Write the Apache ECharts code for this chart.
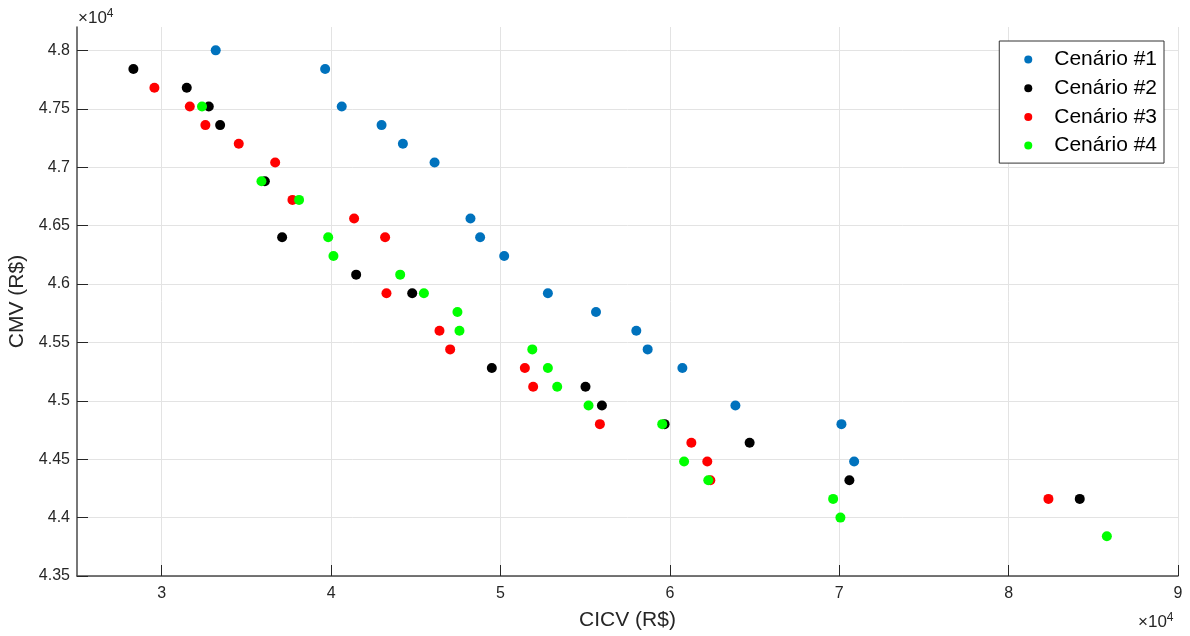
<!DOCTYPE html>
<html>
<head>
<meta charset="utf-8">
<script src="https://cdn.jsdelivr.net/npm/echarts@6/dist/echarts.min.js"></script>
<style>html,body{margin:0;padding:0;background:#fff;}#chart{width:1190px;height:636px;}</style>
</head>
<body>
<div id="chart"></div>
<script>
var seriesNames = ['Cenário #1', 'Cenário #2', 'Cenário #3', 'Cenário #4'];
var xTicks = [30000, 40000, 50000, 60000, 70000, 80000, 90000];
var yTicks = [43500, 44000, 44500, 45000, 45500, 46000, 46500, 47000, 47500, 48000];

var cenario1 = [[33190, 48000], [39650, 47840], [40630, 47520], [42980, 47360], [44240, 47200], [46110, 47040], [48230, 46560], [48800, 46400], [50220, 46240], [52800, 45920], [55640, 45760], [58020, 45600], [58690, 45440], [60740, 45280], [63870, 44960], [70130, 44800], [70880, 44480]];
var cenario2 = [[28330, 47840], [31480, 47680], [32780, 47520], [33450, 47360], [36090, 46880], [37110, 46400], [41480, 46080], [44790, 45920], [49490, 45280], [55020, 45120], [55990, 44960], [59690, 44800], [64710, 44640], [70600, 44320], [84200, 44160]];
var cenario3 = [[29570, 47680], [31660, 47520], [32580, 47360], [34550, 47200], [36700, 47040], [37720, 46720], [41360, 46560], [43190, 46400], [43270, 45920], [46400, 45600], [47030, 45440], [51440, 45280], [51930, 45120], [55870, 44800], [61270, 44640], [62210, 44480], [62390, 44320], [82350, 44160]];
var cenario4 = [[32380, 47520], [35890, 46880], [38110, 46720], [39830, 46400], [40140, 46240], [44080, 46080], [45480, 45920], [47460, 45760], [47580, 45600], [51880, 45440], [52800, 45280], [53350, 45120], [55200, 44960], [59550, 44800], [60840, 44480], [62270, 44320], [69640, 44160], [70070, 44000], [85800, 43840]];

var colors = ['#0072BD', '#000000', '#FF0000', '#00FF00'];
var allData = [cenario1, cenario2, cenario3, cenario4];

var chart = echarts.init(document.getElementById('chart'), null, {renderer: 'canvas'});
var FONT = 'Liberation Sans, Arial, Helvetica, sans-serif';
var axisColor = '#4a4a4a';
var labelColor = '#262626';

function fmt(v) { return String(Math.round(v / 10) / 1000); }

var option = {
  animation: false,
  backgroundColor: '#ffffff',
  grid: {left: 77, right: 12, top: 27, bottom: 60, containLabel: false, outerBoundsMode: 'none'},
  xAxis: {
    type: 'value', min: 25000, max: 90000,
    name: 'CICV (R$)', nameLocation: 'middle', nameGap: 34,
    nameTextStyle: {fontFamily: FONT, fontSize: 21, color: labelColor},
    axisLine: {show: true, onZero: false, lineStyle: {color: axisColor, width: 1.5}},
    axisTick: {show: true, inside: true, length: 11, customValues: xTicks, lineStyle: {color: labelColor, width: 1}},
    axisLabel: {customValues: xTicks, formatter: fmt, fontFamily: FONT, fontSize: 16, color: labelColor, margin: 10},
    splitLine: {show: true, lineStyle: {color: '#e3e3e3', width: 1}}
  },
  yAxis: {
    type: 'value', min: 43500, max: 48200,
    name: 'CMV (R$)', nameLocation: 'middle', nameGap: 43, nameRotate: 90,
    nameTextStyle: {fontFamily: FONT, fontSize: 21, color: labelColor},
    axisLine: {show: true, onZero: false, lineStyle: {color: axisColor, width: 1.5}},
    axisTick: {show: true, inside: true, length: 11, customValues: yTicks, lineStyle: {color: labelColor, width: 1}},
    axisLabel: {customValues: yTicks, formatter: fmt, fontFamily: FONT, fontSize: 16, color: labelColor, margin: 7},
    splitLine: {show: true, lineStyle: {color: '#e3e3e3', width: 1}}
  },
  legend: {
    show: true, orient: 'vertical', right: 26, top: 41,
    backgroundColor: '#ffffff', borderColor: '#333333', borderWidth: 1, borderRadius: 0,
    padding: [8, 7, 7, 25], itemGap: 7.7, itemWidth: 8, itemHeight: 8,
    icon: 'circle',
    textStyle: {fontFamily: FONT, fontSize: 21, color: '#000', padding: [0, 0, 0, 17]},
    data: seriesNames
  },
  graphic: [
    {type: 'text', left: 78, top: 8, style: {text: '×10{s|4}', rich: {s: {fontSize: 12, verticalAlign: 'top', padding: [0, 0, 9, 0], fill: labelColor, fontFamily: FONT}}, fontSize: 17, fontFamily: FONT, fill: labelColor}},
    {type: 'text', left: 1138, top: 612, style: {text: '×10{s|4}', rich: {s: {fontSize: 12, verticalAlign: 'top', padding: [0, 0, 9, 0], fill: labelColor, fontFamily: FONT}}, fontSize: 17, fontFamily: FONT, fill: labelColor}}
  ],
  series: allData.map(function (d, i) {
    return {
      name: seriesNames[i], type: 'scatter', data: d, symbol: 'circle', symbolSize: 10,
      itemStyle: {color: colors[i], opacity: 1}, z: 2 + i
    };
  })
};
chart.setOption(option);
</script>
</body>
</html>
